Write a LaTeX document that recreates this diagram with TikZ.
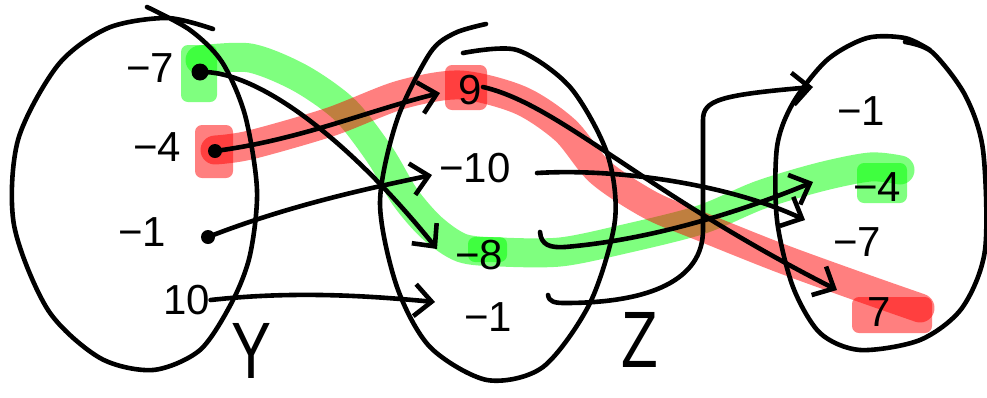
\documentclass[tikz,border=0pt]{standalone}
\usepackage{fontspec}
\setmainfont{Liberation Sans}
\usetikzlibrary{arrows.meta}
\begin{document}
\begin{tikzpicture}[x=1pt,y=-1pt,
  ink/.style={line width=4.6pt, line cap=round, line join=round},
  arr/.style={ink, -{Straight Barb[length=17pt,width=32pt]}},
  lbl/.style={font=\fontsize{42}{42}\selectfont, inner sep=0pt},
  big/.style={font=\fontsize{80}{80}\selectfont, inner sep=0pt},
  dotn/.style={circle, fill=black, inner sep=0pt, minimum size=#1},
  dotn/.default=14pt,
  hl/.style={line width=29pt, opacity=0.5, line cap=round, line join=round},
  blob/.style={opacity=0.5, rounded corners=7pt},
]
\useasboundingbox (0,0) rectangle (987,397);

% highlights
\fill[blob,green] (181,45) rectangle (217,102);
\draw[hl,green] plot[smooth] coordinates {(200,60) (250,58) (300,78) (345,110) (380,155) (405,197) (432,228) (462,248) (500,252) (560,252) (620,240) (700,220) (760,195) (820,177) (870,167) (900,170)};
\fill[blob,green] (468,237) rectangle (507,262);
\fill[blob,green] (857,163) rectangle (907,203);

\fill[blob,red] (195,125) rectangle (233,178);
\draw[hl,red] plot[smooth] coordinates {(215,150) (250,145) (330,122) (400,95) (460,85) (520,100) (565,130) (600,172) (650,205) (700,226) (780,258) (860,287) (920,308)};
\fill[blob,red] (445,65) rectangle (487,110);
\fill[blob,red] (852,297) rectangle (932,333);

% sets
\draw[ink] plot[smooth] coordinates {(147,7) (190,30) (222,62) (245,115) (257,190) (250,255) (232,302) (200,350) (153,370) (100,358) (48,310) (14,225) (18,140) (58,65) (108,28) (167,18) (213,29)};
\draw[ink] plot[smooth] coordinates {(486,24) (455,33) (430,53) (397,120) (380,203) (397,287) (430,347) (487,380) (543,367) (590,303) (615,220) (607,153) (570,87) (517,50) (463,53)};
\draw[ink] plot[smooth] coordinates {(905,42) (932,52) (965,95) (983,150) (985,250) (962,308) (920,340) (860,350) (820,333) (793,287) (777,220) (777,147) (793,103) (827,60) (867,38) (905,38) (930,50)};

% labels Y
\node[lbl] (ym7) at (150,68) {−7};
\node[lbl] (ym4) at (157,147) {−4};
\node[lbl] (ym1) at (142,232) {−1};
\node[lbl] (y10) at (187,300) {10};
\node[dotn=17pt] (d1) at (200,72) {};
\node[dotn] (d2) at (215,151) {};
\node[dotn] (d3) at (208,237) {};
\node[big] (Y) at (252,351) {\scalebox{0.75}[1]{Y}};

% labels Z
\node[lbl] (z9) at (470,90) {9};
\node[lbl] (z10) at (475,168) {−10};
\node[lbl] (z8) at (479,255) {−8};
\node[lbl] (z1) at (488,317) {−1};
\node[big] (Z) at (640,340) {\scalebox{0.75}[1]{Z}};

% labels W
\node[lbl] (w1) at (861,111) {−1};
\node[lbl] (w4) at (877,187) {−4};
\node[lbl] (w7) at (857,242) {−7};
\node[lbl] (w77) at (879,312) {7};

% tips and starts
\coordinate (t9) at (440,93);
\coordinate (t10) at (432,175);
\coordinate (t8) at (437,249);
\coordinate (t1) at (435,302);
\coordinate (s9) at (483,87);
\coordinate (s10) at (537,173);
\coordinate (s8) at (540,232);
\coordinate (s1) at (548,295);
\coordinate (r1) at (813,87);
\coordinate (r4) at (813,182);
\coordinate (r7) at (805,220);
\coordinate (r77) at (837,290);

% f
\draw[arr] (d1.center) .. controls (255,70) and (345,135) .. (t8);
\draw[arr] (d2.center) .. controls (300,140) and (370,110) .. (t9);
\draw[arr] (d3.center) .. controls (290,205) and (370,188) .. (t10);
\draw[arr] (y10.east) .. controls (300,290) and (380,297) .. (t1);

% g
\draw[arr] (s9) .. controls (560,105) and (640,190) .. (r77);
\draw[arr] (s10) .. controls (620,168) and (730,185) .. (r7);
\draw[arr] (s8) .. controls (541,245) and (550,248) .. (565,247) .. controls (650,240) and (740,212) .. (r4);
\draw[arr] (s1) .. controls (549,302) and (555,303) .. (565,303) .. controls (650,303) and (703,280) .. (703,230) -- (703,120) .. controls (703,100) and (720,95) .. (r1);
\end{tikzpicture}
\end{document}
